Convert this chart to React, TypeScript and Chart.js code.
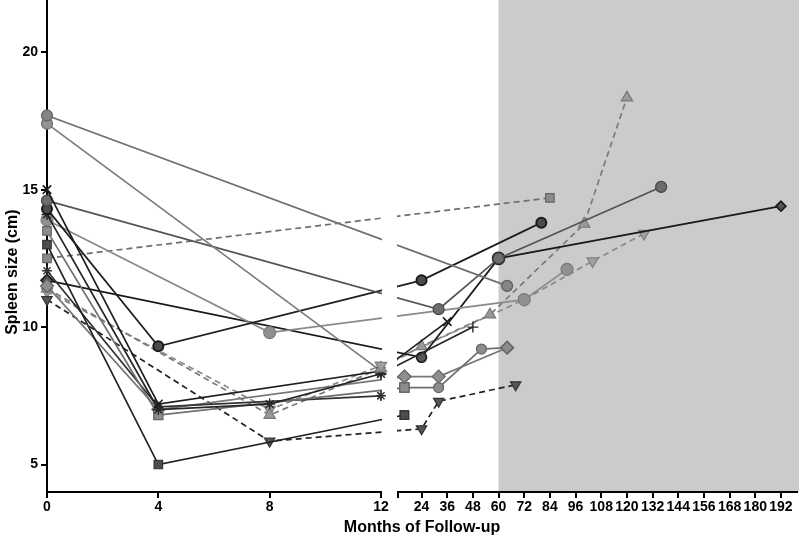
import React, { useEffect, useRef } from 'react';
import { Chart, registerables, LinearScale } from 'chart.js';

Chart.register(...registerables);

// ---------- axis data ----------
const X_TICKS = [0, 4, 8, 12, 13, 24, 36, 48, 60, 72, 84, 96, 108, 120, 132, 144, 156, 168, 180, 192];
const Y_TICKS = [5, 10, 15, 20];
const BREAK_LEFT = 12;
const BREAK_RIGHT = 13;
const X_MIN = 0;
const X_MAX = 199.5;
const Y_MIN = 4;
const Y_MAX = 21.9;
const SHADE_FROM = 60;
const X_TITLE = 'Months of Follow-up';
const Y_TITLE = 'Spleen size (cm)';

// ---------- series data (months, spleen size cm) ----------
const P1_M = [0, 64];
const P1_S = [17.7, 11.5];
const P2_M = [0, 12];
const P2_S = [17.4, 8.4];
const P3_M = [0, 4, 12, 36];
const P3_S = [15.0, 7.2, 8.4, 10.2];
const P4_M = [0, 32, 60, 136];
const P4_S = [14.6, 10.65, 12.5, 15.1];
const P5_M = [0, 4, 24, 80];
const P5_S = [14.3, 9.3, 11.7, 13.8];
const P6_M = [0, 4, 8, 12, 48];
const P6_S = [14.1, 7.0, 7.2, 8.3, 10.0];
const P7_M = [0, 8, 72, 92];
const P7_S = [13.9, 9.8, 11.0, 12.1];
const P8_M = [0, 4, 12, 16, 32, 52, 64];
const P8_S = [13.5, 6.8, 7.7, 7.8, 7.8, 9.2, 9.25];
const P9_M = [0, 4, 16];
const P9_S = [13.0, 5.0, 6.8];
const P10_M = [0, 84];
const P10_S = [12.5, 14.7];
const P11_M = [0, 4, 12];
const P11_S = [12.05, 7.1, 7.5];
const P12_M = [0, 4, 16, 32, 64];
const P12_S = [11.5, 7.0, 8.2, 8.2, 9.25];
const P13_M = [0, 24, 60, 192];
const P13_S = [11.7, 8.9, 12.5, 14.4];
const P14_M = [0, 8, 12, 24, 56, 100, 120];
const P14_S = [11.4, 6.8, 8.5, 9.3, 10.45, 13.75, 18.35];
const P15_M = [0, 8, 24, 32, 68];
const P15_S = [11.0, 5.85, 6.3, 7.3, 7.9];
const P16_M = [0, 8, 12, 72, 104, 128];
const P16_S = [11.3, 7.0, 8.6, 11.0, 12.4, 13.4];

const SERIES = [
  [P1_M, P1_S], [P2_M, P2_S], [P3_M, P3_S], [P4_M, P4_S],
  [P5_M, P5_S], [P6_M, P6_S], [P7_M, P7_S], [P8_M, P8_S],
  [P9_M, P9_S], [P10_M, P10_S], [P11_M, P11_S], [P12_M, P12_S],
  [P13_M, P13_S], [P14_M, P14_S], [P15_M, P15_S], [P16_M, P16_S],
];

// ---------- styles ----------
type St = {
  line: string; dash?: number[]; marker: any; fill: string; edge: string;
  r?: number | number[]; rot?: number; bw?: number; lw?: number;
};
const STYLES: St[] = [
  { line: '#6f6f6f', marker: 'circle', fill: '#858585', edge: '#5e5e5e', r: 5.5 },
  { line: '#7c7c7c', marker: ['circle', 'triangle'], fill: '#929292', edge: '#707070', r: 5.5 },
  { line: '#1c1c1c', marker: 'crossRot', fill: '#1c1c1c', edge: '#1c1c1c', r: 6, bw: 1.6 },
  { line: '#545454', marker: 'circle', fill: '#6c6c6c', edge: '#454545', r: 5.5 },
  { line: '#1e1e1e', marker: 'circle', fill: '#4c4c4c', edge: '#1a1a1a', r: 5, bw: 2 },
  { line: '#262626', marker: ['star', 'star', 'star', 'star', 'cross'], fill: '#262626', edge: '#262626', r: 5.5, bw: 1.4 },
  { line: '#8a8a8a', marker: 'circle', fill: '#909090', edge: '#7a7a7a', r: 6 },
  { line: '#6e6e6e', marker: ['rect', 'rect', 'rect', 'rect', 'circle', 'circle', 'rectRot'], fill: '#8c8c8c', edge: '#646464', r: [6, 6.5, 0, 6.5, 5, 5, 6] },
  { line: '#222222', marker: 'rect', fill: '#4d4d4d', edge: '#333333', r: 6 },
  { line: '#6e6e6e', dash: [6, 4], marker: 'rect', fill: '#8a8a8a', edge: '#666666', r: 6 },
  { line: '#333333', marker: 'star', fill: '#333333', edge: '#333333', r: 5, bw: 1.4 },
  { line: '#777777', marker: 'rectRot', fill: '#8f8f8f', edge: '#666666', r: 6.5 },
  { line: '#1a1a1a', marker: ['rectRot', 'circle', 'circle', 'rectRot'], fill: '#555555', edge: '#1a1a1a', r: [6, 5, 6, 5], bw: 1.6 },
  { line: '#7a7a7a', dash: [6, 4], marker: 'triangle', fill: '#9a9a9a', edge: '#777777', r: 6.5 },
  { line: '#222222', dash: [6, 4], marker: 'triangle', rot: 180, fill: '#555555', edge: '#333333', r: 6 },
  { line: '#8a8a8a', dash: [6, 4], marker: 'triangle', rot: 180, fill: '#a0a0a0', edge: '#808080', r: 6.5 },
];

// ---------- broken x scale ----------
const LEFT_FRAC = 334 / 750;
const GAP_PX = 17;

class BrokenLinearScale extends LinearScale {
  static id = 'brokenLinear';
  static defaults = {};
  getPixelForValue(value: any) {
    if (value === null || value === undefined || isNaN(value)) return NaN;
    const s: any = this;
    const L = s.left, R = s.right;
    const lw = (R - L) * LEFT_FRAC;
    if (value <= BREAK_LEFT) return L + ((value - s.min) / (BREAK_LEFT - s.min)) * lw;
    const rs = L + lw + GAP_PX;
    return rs + ((value - BREAK_RIGHT) / (s.max - BREAK_RIGHT)) * (R - rs);
  }
  getValueForPixel(px: number) {
    const s: any = this;
    const L = s.left, R = s.right;
    const lw = (R - L) * LEFT_FRAC;
    const rs = L + lw + GAP_PX;
    if (px <= L + lw) return s.min + ((px - L) / lw) * (BREAK_LEFT - s.min);
    return BREAK_RIGHT + ((px - rs) / (R - rs)) * (s.max - BREAK_RIGHT);
  }
}
Chart.register(BrokenLinearScale as any);

const TICK_FONT = { family: '"Liberation Sans Narrow", "Liberation Sans", Arial, sans-serif', size: 14, weight: 'bold' as const };

const brokenAxisPlugin = {
  id: 'brokenAxis',
  beforeDatasetsDraw(chart: any) {
    const { ctx, chartArea: ca, scales } = chart;
    const x0 = scales.x.getPixelForValue(SHADE_FROM);
    ctx.save();
    ctx.fillStyle = '#cbcbcb';
    ctx.fillRect(x0, 0, ca.right - x0 + 2, ca.bottom);
    ctx.restore();
  },
  afterDatasetsDraw(chart: any) {
    const { ctx, chartArea: ca, scales } = chart;
    const x12 = scales.x.getPixelForValue(BREAK_LEFT);
    const rs = scales.x.getPixelForValue(BREAK_RIGHT);
    ctx.save();
    ctx.fillStyle = '#ffffff';
    ctx.fillRect(x12 + 1, ca.top, rs - x12 - 2, ca.bottom - ca.top);
    ctx.restore();
    chart.getSortedVisibleDatasetMetas().forEach((meta: any) => {
      meta.data.forEach((pt: any) => {
        if (pt.x > x12 - 9 && pt.x < rs + 9) pt.draw(ctx, ca);
      });
    });
  },
  afterDraw(chart: any) {
    const { ctx, chartArea: ca, scales } = chart;
    const x12 = scales.x.getPixelForValue(BREAK_LEFT);
    const rs = scales.x.getPixelForValue(BREAK_RIGHT);
    ctx.save();
    ctx.strokeStyle = '#000';
    ctx.lineWidth = 2;
    ctx.beginPath();
    ctx.moveTo(ca.left - 1, ca.bottom);
    ctx.lineTo(x12 + 1, ca.bottom);
    ctx.moveTo(rs - 1, ca.bottom);
    ctx.lineTo(ca.right + 1, ca.bottom);
    ctx.stroke();
    // y title
    const yc = (scales.y.getPixelForValue(Y_TICKS[Y_TICKS.length - 1]) + ca.bottom) / 2;
    ctx.translate(13, yc);
    ctx.rotate(-Math.PI / 2);
    ctx.fillStyle = '#000';
    ctx.font = 'bold 16px "Liberation Sans", Arial, sans-serif';
    ctx.textAlign = 'center';
    ctx.textBaseline = 'middle';
    ctx.fillText(Y_TITLE, 0, 0);
    ctx.restore();
  },
};

export default function App() {
  const ref = useRef<HTMLCanvasElement | null>(null);
  useEffect(() => {
    if (!ref.current) return;
    const datasets = SERIES.map(([m, s], i) => {
      const st = STYLES[i];
      return {
        data: m.map((mv, j) => ({ x: mv, y: s[j] })),
        borderColor: st.line,
        borderWidth: st.lw ?? 1.7,
        borderDash: st.dash ?? [],
        pointStyle: st.marker,
        pointRadius: st.r ?? 5.5,
        pointRotation: st.rot ?? 0,
        pointBackgroundColor: st.fill,
        pointBorderColor: st.edge,
        pointBorderWidth: st.bw ?? 1.2,
        fill: false,
        tension: 0,
        clip: false as any,
      };
    });
    const chart = new Chart(ref.current, {
      type: 'line',
      data: { datasets },
      options: {
        animation: false,
        responsive: false,
        layout: { autoPadding: false, padding: { top: 0, right: 3, bottom: 0, left: 0 } },
        plugins: { legend: { display: false }, tooltip: { enabled: false } },
        elements: { point: { hoverRadius: 5 } },
        scales: {
          x: {
            type: 'brokenLinear' as any,
            min: X_MIN,
            max: X_MAX,
            afterBuildTicks: (s: any) => { s.ticks = X_TICKS.map((v) => ({ value: v })); },
            afterFit: (s: any) => { s.height = 47; s.paddingLeft = 0; s.paddingRight = 0; },
            ticks: {
              autoSkip: false, maxRotation: 0, minRotation: 0, padding: 1,
              color: '#000', font: TICK_FONT,
              callback: (v: any) => (v === BREAK_RIGHT ? '' : String(v)),
            },
            grid: { drawOnChartArea: false, drawTicks: true, tickLength: 6, color: '#000', lineWidth: 2 },
            border: { display: false },
            title: {
              display: true, text: X_TITLE, color: '#000',
              font: { family: '"Liberation Sans", Arial, sans-serif', size: 16, weight: 'bold' },
              padding: { top: 0, bottom: 2 },
            },
          } as any,
          y: {
            type: 'linear',
            min: Y_MIN,
            max: Y_MAX,
            afterBuildTicks: (s: any) => { s.ticks = Y_TICKS.map((v) => ({ value: v })); },
            afterFit: (s: any) => { s.width = 47; s.paddingTop = 0; s.paddingBottom = 0; },
            ticks: { color: '#000', font: TICK_FONT, padding: 3 },
            grid: { drawOnChartArea: false, drawTicks: true, tickLength: 6, color: '#000', lineWidth: 2 },
            border: { display: true, color: '#000', width: 2 },
          } as any,
        },
      },
      plugins: [brokenAxisPlugin],
    });
    return () => chart.destroy();
  }, []);
  return (
    <div style={{ position: 'fixed', left: 0, top: 0, width: 800, height: 539, background: '#fff' }}>
      <canvas ref={ref} width={800} height={539} />
    </div>
  );
}
